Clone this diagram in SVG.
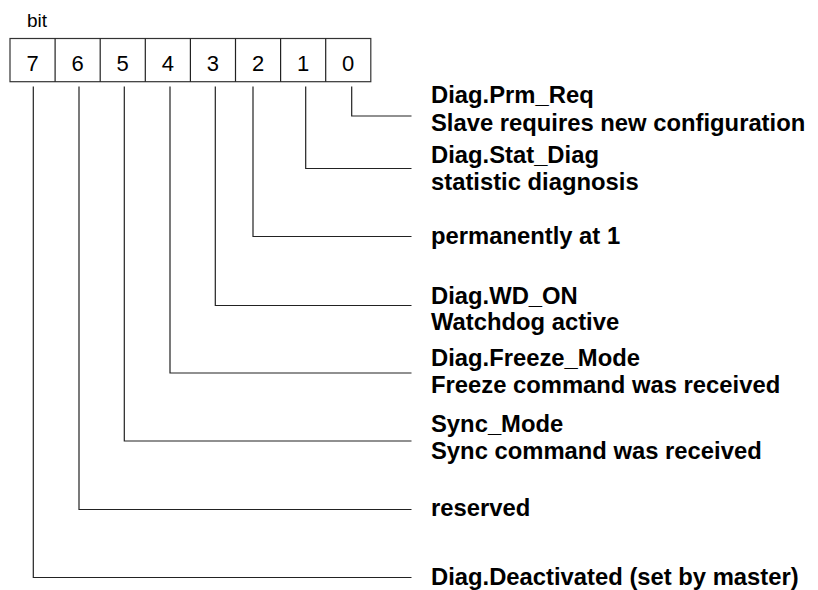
<svg xmlns="http://www.w3.org/2000/svg" width="818" height="590" viewBox="0 0 818 590">
<style>
.ln{fill:none;stroke:#222;stroke-width:1.2}
.box{fill:#fff;stroke:#333;stroke-width:1.2}
.dg{font-family:"Liberation Sans",Arial,sans-serif;font-size:22px;fill:#000;text-anchor:middle}
.lb{font-family:"Liberation Sans",Arial,sans-serif;font-size:23.8px;font-weight:bold;fill:#000}
.bit{font-family:"Liberation Sans",Arial,sans-serif;font-size:19px;fill:#000}
</style>
<rect width="818" height="590" fill="#fff"/>
<text class="bit" x="27" y="27">bit</text>
<g id="register">
<rect class="box" x="10" y="38.5" width="360.8" height="43.2"/>
<path class="ln" d="M55.1 38.5V81.7M100.2 38.5V81.7M145.3 38.5V81.7M190.4 38.5V81.7M235.5 38.5V81.7M280.6 38.5V81.7M325.7 38.5V81.7"/>
<text class="dg" x="32.5" y="71">7</text>
<text class="dg" x="77.6" y="71">6</text>
<text class="dg" x="122.7" y="71">5</text>
<text class="dg" x="167.8" y="71">4</text>
<text class="dg" x="212.9" y="71">3</text>
<text class="dg" x="258" y="71">2</text>
<text class="dg" x="303.1" y="71">1</text>
<text class="dg" x="348.2" y="71">0</text>
</g>
<g id="connectors">
<path class="ln" d="M351.7 86.5V116H411.5"/>
<path class="ln" d="M305.7 86.5V168.5H411.5"/>
<path class="ln" d="M253 86.5V236.5H411.5"/>
<path class="ln" d="M215.3 86.5V305.5H411.5"/>
<path class="ln" d="M170 86.5V373H411.5"/>
<path class="ln" d="M124.3 86.5V441H411.5"/>
<path class="ln" d="M79 86.5V509.5H411.5"/>
<path class="ln" d="M33.3 86.5V577.5H411.5"/>
</g>
<g id="bit0"><text class="lb" x="431" y="103">Diag.Prm_Req</text><text class="lb" x="431" y="131">Slave requires new configuration</text></g>
<g id="bit1"><text class="lb" x="431" y="163">Diag.Stat_Diag</text><text class="lb" x="431" y="190">statistic diagnosis</text></g>
<g id="bit2"><text class="lb" x="431" y="244">permanently at 1</text></g>
<g id="bit3"><text class="lb" x="431" y="304">Diag.WD_ON</text><text class="lb" x="431" y="330">Watchdog active</text></g>
<g id="bit4"><text class="lb" x="431" y="366">Diag.Freeze_Mode</text><text class="lb" x="431" y="393">Freeze command was received</text></g>
<g id="bit5"><text class="lb" x="431" y="432">Sync_Mode</text><text class="lb" x="431" y="459">Sync command was received</text></g>
<g id="bit6"><text class="lb" x="431" y="516">reserved</text></g>
<g id="bit7"><text class="lb" x="431" y="585">Diag.Deactivated (set by master)</text></g>
</svg>
